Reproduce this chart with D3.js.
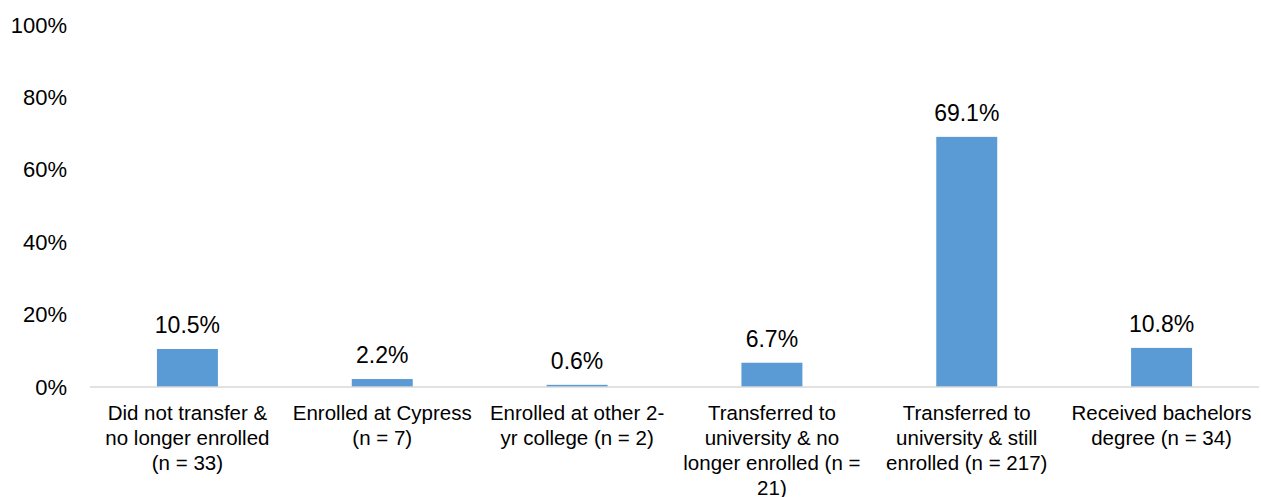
<!DOCTYPE html>
<html>
<head>
<meta charset="utf-8">
<script src="https://cdn.jsdelivr.net/npm/d3@7"></script>
<style>
  body { margin: 0; background: #fff; }
  text { font-family: "Liberation Sans", Arial, sans-serif; fill: #000; }
</style>
</head>
<body>
<div id="chart"></div>
<script>
var width = 1261, height = 497;

// categories, already broken into the lines the chart shows
var categories = [
  ["Did not transfer &", "no longer enrolled", "(n = 33)"],
  ["Enrolled at Cypress", "(n = 7)"],
  ["Enrolled at other 2-", "yr college (n = 2)"],
  ["Transferred to", "university & no", "longer enrolled (n =", "21)"],
  ["Transferred to", "university & still", "enrolled (n = 217)"],
  ["Received bachelors", "degree (n = 34)"]
];
var values = [10.5, 2.2, 0.6, 6.7, 69.1, 10.8];
var yTicks = [0, 20, 40, 60, 80, 100];

var margin = {top: 25, right: 2, bottom: 110, left: 90};

var svg = d3.select("#chart").append("svg")
  .attr("width", width)
  .attr("height", height);

var x = d3.scaleBand()
  .domain(d3.range(categories.length))
  .range([margin.left, width - margin.right])
  .paddingInner(0.687)
  .paddingOuter(0.3435);

var y = d3.scaleLinear()
  .domain([0, 100])
  .range([height - margin.bottom, margin.top]);

// y axis labels only, no line or ticks
var yAxis = svg.append("g")
  .attr("transform", "translate(" + (margin.left - 23) + ",0)")
  .call(d3.axisLeft(y).tickValues(yTicks).tickSize(0).tickPadding(0)
    .tickFormat(function(d) { return d + "%"; }));
yAxis.select(".domain").remove();
yAxis.selectAll("text")
  .style("font-size", "22px")
  .style("font-family", "'Liberation Sans', Arial, sans-serif")
  .attr("fill", "#000");

// bars
svg.selectAll(".bar")
  .data(values)
  .enter().append("rect")
  .attr("class", "bar")
  .attr("x", function(d, i) { return x(i); })
  .attr("width", x.bandwidth())
  .attr("y", function(d) { return y(d); })
  .attr("height", function(d) { return y(0) - y(d); })
  .attr("fill", "#5b9bd5");

// x axis line
svg.append("line")
  .attr("x1", margin.left)
  .attr("x2", width - margin.right)
  .attr("y1", y(0))
  .attr("y2", y(0))
  .attr("stroke", "#d9d9d9")
  .attr("stroke-width", 1.5);

// data labels
svg.selectAll(".label")
  .data(values)
  .enter().append("text")
  .attr("class", "label")
  .attr("x", function(d, i) { return x(i) + x.bandwidth() / 2; })
  .attr("y", function(d) { return y(d) - 16; })
  .attr("text-anchor", "middle")
  .style("font-size", "23px")
  .text(function(d) { return d.toFixed(1) + "%"; });

// category labels
var cat = svg.selectAll(".cat")
  .data(categories)
  .enter().append("text")
  .attr("class", "cat")
  .attr("text-anchor", "middle")
  .style("font-size", "20.5px");

cat.selectAll("tspan")
  .data(function(d, i) { return d.map(function(line) { return {line: line, i: i}; }); })
  .enter().append("tspan")
  .attr("x", function(d) { return x(d.i) + x.bandwidth() / 2; })
  .attr("y", function(d, j) { return y(0) + 33 + j * 25; })
  .text(function(d) { return d.line; });
</script>
</body>
</html>
